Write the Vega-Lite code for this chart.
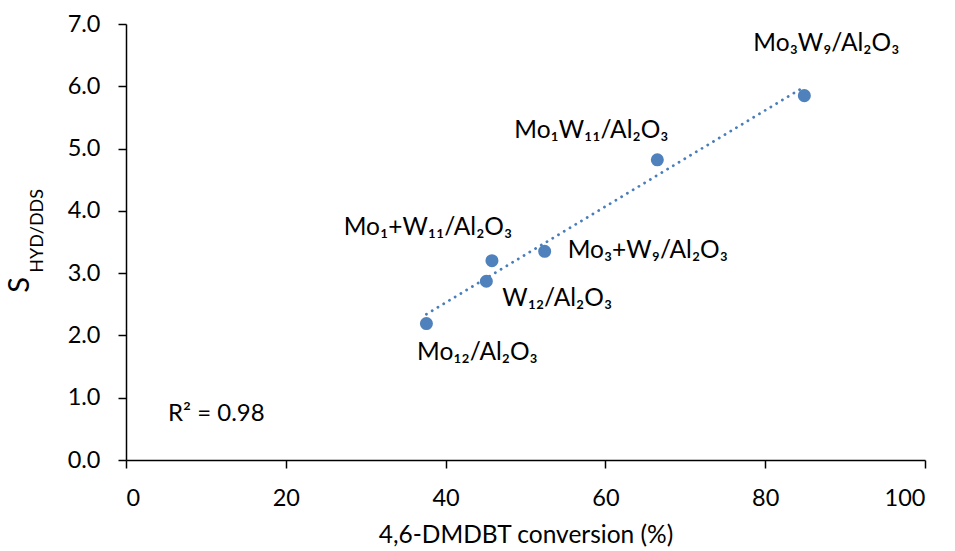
{
  "$schema": "https://vega.github.io/schema/vega-lite/v6.json",
  "width": 799,
  "height": 436,
  "autosize": {"type": "none"},
  "padding": {"left": 126, "top": 24, "right": 30, "bottom": 91},
  "background": "white",
  "config": {
    "view": {"stroke": null},
    "font": "Lato",
    "axis": {
      "domainColor": "black",
      "domainWidth": 1.5,
      "tickColor": "black",
      "tickWidth": 1.5,
      "tickSize": 8,
      "grid": false,
      "labelFont": "Lato",
      "labelFontSize": 23.5,
      "labelColor": "black",
      "titleFont": "Lato",
      "titleFontSize": 24.5,
      "titleFontWeight": "normal",
      "titleColor": "black"
    }
  },
  "datasets": {
    "points": [
      {"catalyst": "Mo₁₂/Al₂O₃", "conversion": 37.6, "s": 2.19},
      {"catalyst": "W₁₂/Al₂O₃", "conversion": 45.1, "s": 2.87},
      {"catalyst": "Mo₁+W₁₁/Al₂O₃", "conversion": 45.8, "s": 3.2},
      {"catalyst": "Mo₃+W₉/Al₂O₃", "conversion": 52.4, "s": 3.35},
      {"catalyst": "Mo₁W₁₁/Al₂O₃", "conversion": 66.5, "s": 4.82},
      {"catalyst": "Mo₃W₉/Al₂O₃", "conversion": 84.9, "s": 5.85}
    ],
    "note": [{"label": "note"}]
  },
  "layer": [
    {
      "data": {"name": "points"},
      "transform": [{"regression": "s", "on": "conversion"}],
      "mark": {"type": "line", "color": "#4a7ebb", "strokeWidth": 2.8, "strokeDash": [0.1, 6.6], "strokeCap": "round"},
      "encoding": {
        "x": {
          "field": "conversion",
          "type": "quantitative",
          "scale": {"domain": [0, 100], "nice": false},
          "axis": {"values": [0, 20, 40, 60, 80, 100], "title": "4,6-DMDBT conversion (%)", "labelPadding": 18, "titlePadding": 14}
        },
        "y": {
          "field": "s",
          "type": "quantitative",
          "scale": {"domain": [0, 7], "nice": false},
          "axis": {"values": [0, 1, 2, 3, 4, 5, 6, 7], "format": ".1f", "title": null, "labelPadding": 18}
        }
      }
    },
    {
      "data": {"name": "points"},
      "mark": {"type": "circle", "color": "#4f81bd", "opacity": 1, "size": 170},
      "encoding": {
        "x": {"field": "conversion", "type": "quantitative"},
        "y": {"field": "s", "type": "quantitative"}
      }
    },
    {
      "data": {"name": "points"},
      "transform": [{"filter": {"field": "catalyst", "oneOf": ["Mo₁₂/Al₂O₃"]}}],
      "mark": {"type": "text", "align": "center", "baseline": "middle", "dx": 51, "dy": 29, "fontSize": 24.5, "color": "black"},
      "encoding": {"x": {"field": "conversion", "type": "quantitative"}, "y": {"field": "s", "type": "quantitative"}, "text": {"field": "catalyst"}}
    },
    {
      "data": {"name": "points"},
      "transform": [{"filter": {"field": "catalyst", "oneOf": ["W₁₂/Al₂O₃"]}}],
      "mark": {"type": "text", "align": "left", "baseline": "middle", "dx": 16, "dy": 18, "fontSize": 24.5, "color": "black"},
      "encoding": {"x": {"field": "conversion", "type": "quantitative"}, "y": {"field": "s", "type": "quantitative"}, "text": {"field": "catalyst"}}
    },
    {
      "data": {"name": "points"},
      "transform": [{"filter": {"field": "catalyst", "oneOf": ["Mo₁+W₁₁/Al₂O₃"]}}],
      "mark": {"type": "text", "align": "center", "baseline": "middle", "dx": -64, "dy": -33, "fontSize": 24.5, "color": "black"},
      "encoding": {"x": {"field": "conversion", "type": "quantitative"}, "y": {"field": "s", "type": "quantitative"}, "text": {"field": "catalyst"}}
    },
    {
      "data": {"name": "points"},
      "transform": [{"filter": {"field": "catalyst", "oneOf": ["Mo₃+W₉/Al₂O₃"]}}],
      "mark": {"type": "text", "align": "left", "baseline": "middle", "dx": 23, "dy": 0, "fontSize": 24.5, "color": "black"},
      "encoding": {"x": {"field": "conversion", "type": "quantitative"}, "y": {"field": "s", "type": "quantitative"}, "text": {"field": "catalyst"}}
    },
    {
      "data": {"name": "points"},
      "transform": [{"filter": {"field": "catalyst", "oneOf": ["Mo₁W₁₁/Al₂O₃"]}}],
      "mark": {"type": "text", "align": "center", "baseline": "middle", "dx": -66, "dy": -29, "fontSize": 24.5, "color": "black"},
      "encoding": {"x": {"field": "conversion", "type": "quantitative"}, "y": {"field": "s", "type": "quantitative"}, "text": {"field": "catalyst"}}
    },
    {
      "data": {"name": "points"},
      "transform": [{"filter": {"field": "catalyst", "oneOf": ["Mo₃W₉/Al₂O₃"]}}],
      "mark": {"type": "text", "align": "center", "baseline": "middle", "dx": 22, "dy": -52, "fontSize": 24.5, "color": "black"},
      "encoding": {"x": {"field": "conversion", "type": "quantitative"}, "y": {"field": "s", "type": "quantitative"}, "text": {"field": "catalyst"}}
    },
    {
      "data": {"name": "note"},
      "mark": {"type": "text", "align": "left", "baseline": "middle", "fontSize": 24, "color": "black"},
      "encoding": {"x": {"datum": 5.25}, "y": {"datum": 0.74}, "text": {"value": "R² = 0.98"}}
    },
    {
      "data": {"name": "note"},
      "mark": {"type": "text", "align": "center", "baseline": "alphabetic", "angle": 270, "fontSize": 29, "color": "black"},
      "encoding": {"x": {"datum": -12.2}, "y": {"datum": 2.81}, "text": {"value": "S"}}
    },
    {
      "data": {"name": "note"},
      "mark": {"type": "text", "align": "center", "baseline": "alphabetic", "angle": 270, "fontSize": 18, "color": "black"},
      "encoding": {"x": {"datum": -10.4}, "y": {"datum": 3.68}, "text": {"value": "HYD/DDS"}}
    }
  ]
}
